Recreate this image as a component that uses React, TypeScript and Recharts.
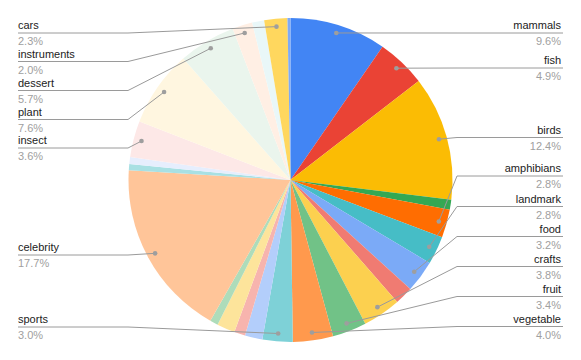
import { PieChart, Pie, Cell } from 'recharts';

// slices clockwise from 12 o'clock; unlabeled slices have no text in the chart
const categories = [
  'mammals', 'fish', 'birds', 'unlabeled 1', 'amphibians', 'landmark', 'food', 'unlabeled 2',
  'crafts', 'fruit', 'vegetable', 'sports', 'unlabeled 3', 'unlabeled 4', 'unlabeled 5', 'unlabeled 6',
  'celebrity', 'unlabeled 7', 'unlabeled 8', 'insect', 'plant', 'dessert', 'instruments', 'unlabeled 9',
  'cars', 'unlabeled 10',
];
const shares = [
  9.6, 4.9, 12.4, 1.0, 2.8, 2.8, 3.2, 1.8,
  3.8, 3.4, 4.0, 3.0, 1.75, 1.1, 1.8, 0.8,
  17.7, 0.6, 0.7, 3.6, 7.6, 5.7, 2.0, 1.2,
  2.3, 0.3,
];
const colors = [
  '#4285f4', '#ea4335', '#fbbc04', '#34a853', '#ff6d01', '#46bdc6', '#7baaf7', '#f07b72',
  '#fcd04f', '#71c287', '#ff994d', '#7ed1d7', '#b3cefb', '#f7b4ae', '#fde49b', '#aedcba',
  '#ffc599', '#a8e0e3', '#e6eefd', '#fde8e7', '#fff6e0', '#eaf5ed', '#ffefe4', '#e9f7f8',
  '#ffd75e', '#7faaf5',
];

// label rows: y of the underline and which side
const labelRows: Record<string, { y: number; side: 'left' | 'right' }> = {
  mammals: { y: 33, side: 'right' },
  fish: { y: 68, side: 'right' },
  birds: { y: 137.5, side: 'right' },
  amphibians: { y: 176, side: 'right' },
  landmark: { y: 206.5, side: 'right' },
  food: { y: 236.5, side: 'right' },
  crafts: { y: 266.5, side: 'right' },
  fruit: { y: 296.5, side: 'right' },
  vegetable: { y: 326.5, side: 'right' },
  cars: { y: 33, side: 'left' },
  instruments: { y: 61.5, side: 'left' },
  dessert: { y: 90.5, side: 'left' },
  plant: { y: 119.5, side: 'left' },
  insect: { y: 148, side: 'left' },
  celebrity: { y: 255, side: 'left' },
  sports: { y: 327, side: 'left' },
};

const data = categories.map((name, i) => ({ name, value: shares[i] }));

const RAD = Math.PI / 180;

const renderLabel = (props: any) => {
  const { cx, cy, midAngle, outerRadius, index } = props;
  const name = categories[index];
  const row = labelRows[name];
  if (!row) return null;
  const r = outerRadius - 8;
  const dx = cx + r * Math.cos(-midAngle * RAD);
  const dy = cy + r * Math.sin(-midAngle * RAD);
  const left = row.side === 'left';
  const elbowX = left ? 128 : 457;
  const edgeX = left ? 18 : 563;
  const textX = left ? 18 : 561;
  const anchor = left ? 'start' : 'end';
  return (
    <g key={name}>
      <polyline
        points={`${dx},${dy} ${elbowX},${row.y} ${edgeX},${row.y}`}
        fill="none"
        stroke="#9a9a9a"
        strokeWidth={1}
      />
      <circle cx={dx} cy={dy} r={2.3} fill="#9e9e9e" />
      <text x={textX} y={row.y - 4} textAnchor={anchor} fontSize={11} fill="#222">
        {name}
      </text>
      <text x={textX} y={row.y + 12} textAnchor={anchor} fontSize={11} fill="#a0a0a0">
        {shares[index].toFixed(1)}%
      </text>
    </g>
  );
};

export default function App() {
  return (
    <div style={{ position: 'absolute', left: 0, top: 0, fontFamily: 'Arial, "Liberation Sans", sans-serif' }}>
      <PieChart width={581} height={360} margin={{ top: 0, right: 0, bottom: 0, left: 0 }}>
        <Pie
          data={data}
          dataKey="value"
          nameKey="name"
          cx={290.5}
          cy={180}
          outerRadius={162}
          startAngle={90}
          endAngle={-270}
          stroke="none"
          label={renderLabel}
          labelLine={false}
          isAnimationActive={false}
        >
          {data.map((d, i) => (
            <Cell key={d.name} fill={colors[i]} />
          ))}
        </Pie>
      </PieChart>
    </div>
  );
}
